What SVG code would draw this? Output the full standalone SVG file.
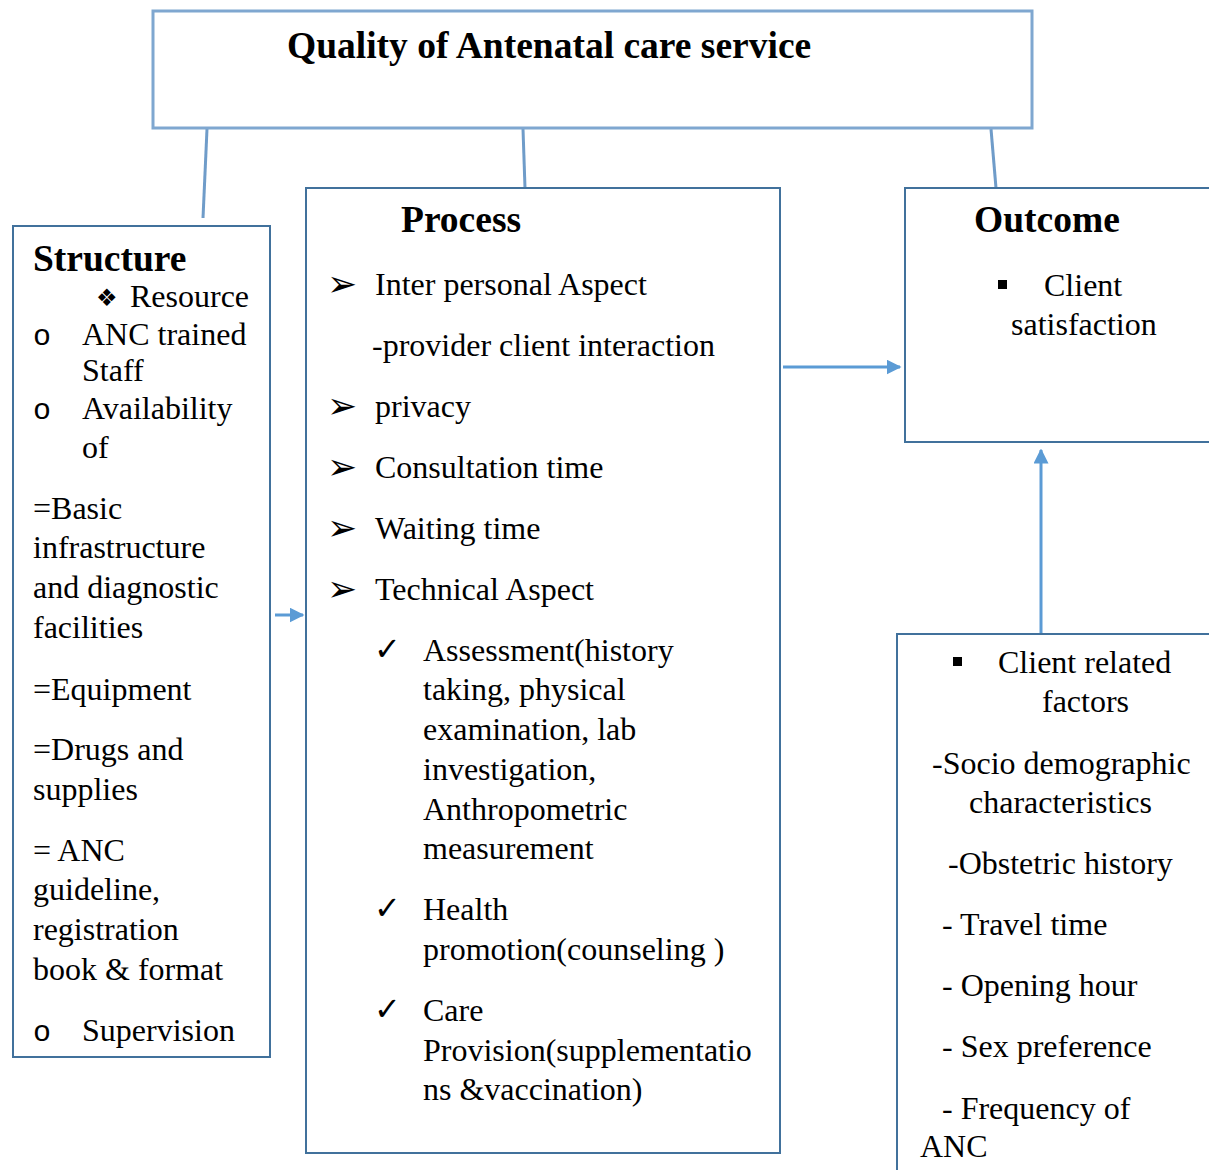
<svg xmlns="http://www.w3.org/2000/svg" width="1209" height="1170" viewBox="0 0 1209 1170">
<style>
.box{fill:#fff;stroke:#41719c;stroke-width:2}
.top{fill:#fff;stroke:#7fa7d0;stroke-width:3}
.t{font-family:"Liberation Serif","Times New Roman",serif;font-size:32px;fill:#000}
.b{font-family:"Liberation Serif","Times New Roman",serif;font-size:37.5px;font-weight:bold;fill:#000}
.arw{font-family:"DejaVu Sans",sans-serif;font-size:36px;fill:#000}
.chk{font-family:"DejaVu Sans",sans-serif;font-size:32px;fill:#000}
.dia{font-family:"DejaVu Sans",sans-serif;font-size:24px;fill:#000}
.o{font-family:"Liberation Mono","Courier New",monospace;font-size:30px;fill:#000}
.ln{stroke:#6f9cc9;stroke-width:3;fill:none}
.ar{stroke:#5b9bd5;stroke-width:3;fill:none}
</style>
<defs>
<marker id="ah" viewBox="0 0 10 10" refX="9" refY="5" markerWidth="5" markerHeight="5" orient="auto" markerUnits="strokeWidth">
<path d="M0,0 L10,5 L0,10 z" fill="#5b9bd5"/>
</marker>
</defs>
<rect width="1209" height="1170" fill="#fff"/>

<g id="connectors">
<line class="ln" x1="207" y1="129" x2="203" y2="218"/>
<line class="ln" x1="523" y1="129" x2="525" y2="188"/>
<line class="ln" x1="991" y1="129" x2="996" y2="188"/>
<line class="ar" x1="275" y1="615" x2="303" y2="615" marker-end="url(#ah)"/>
<line class="ar" x1="783" y1="367" x2="900" y2="367" marker-end="url(#ah)"/>
<line class="ar" x1="1041" y1="640" x2="1041" y2="450" marker-end="url(#ah)"/>
</g>

<g id="title">
<rect class="top" x="153" y="11" width="879" height="117"/>
<text class="b" x="287" y="58">Quality of Antenatal care service</text>
</g>

<g id="structure">
<rect class="box" x="13" y="226" width="257" height="831"/>
<text class="b" x="33" y="271">Structure</text>
<text class="dia" x="96" y="306">❖</text>
<text class="t" x="130" y="307">Resource</text>
<text class="o" x="33" y="345">o</text>
<text class="t" x="82" y="345">ANC trained</text>
<text class="t" x="82" y="381">Staff</text>
<text class="o" x="33" y="419">o</text>
<text class="t" x="82" y="419">Availability</text>
<text class="t" x="82" y="458">of</text>
<text class="t" x="33" y="519">=Basic</text>
<text class="t" x="33" y="558">infrastructure</text>
<text class="t" x="33" y="598">and diagnostic</text>
<text class="t" x="33" y="638">facilities</text>
<text class="t" x="33" y="700">=Equipment</text>
<text class="t" x="33" y="760">=Drugs and</text>
<text class="t" x="33" y="800">supplies</text>
<text class="t" x="33" y="861">= ANC</text>
<text class="t" x="33" y="900">guideline,</text>
<text class="t" x="33" y="940">registration</text>
<text class="t" x="33" y="980">book &amp; format</text>
<text class="o" x="33" y="1041">o</text>
<text class="t" x="82" y="1041">Supervision</text>
</g>

<g id="process">
<rect class="box" x="306" y="188" width="474" height="965"/>
<text class="b" x="401" y="232">Process</text>
<text class="arw" x="327" y="296">➢</text>
<text class="t" x="375" y="295">Inter personal Aspect</text>
<text class="t" x="372" y="356">-provider client interaction</text>
<text class="arw" x="327" y="418">➢</text>
<text class="t" x="375" y="417">privacy</text>
<text class="arw" x="327" y="479">➢</text>
<text class="t" x="375" y="478">Consultation time</text>
<text class="arw" x="327" y="540">➢</text>
<text class="t" x="375" y="539">Waiting time</text>
<text class="arw" x="327" y="601">➢</text>
<text class="t" x="375" y="600">Technical Aspect</text>
<text class="chk" x="374" y="660">✓</text>
<text class="t" x="423" y="661">Assessment(history</text>
<text class="t" x="423" y="700">taking, physical</text>
<text class="t" x="423" y="740">examination, lab</text>
<text class="t" x="423" y="780">investigation,</text>
<text class="t" x="423" y="820">Anthropometric</text>
<text class="t" x="423" y="859">measurement</text>
<text class="chk" x="374" y="919">✓</text>
<text class="t" x="423" y="920">Health</text>
<text class="t" x="423" y="960">promotion(counseling )</text>
<text class="chk" x="374" y="1020">✓</text>
<text class="t" x="423" y="1021">Care</text>
<text class="t" x="423" y="1061">Provision(supplementatio</text>
<text class="t" x="423" y="1100">ns &amp;vaccination)</text>
</g>

<g id="outcome">
<rect class="box" x="905" y="188" width="310" height="254"/>
<text class="b" x="974" y="232">Outcome</text>
<rect x="998" y="280" width="9" height="9" fill="#000"/>
<text class="t" x="1044" y="296">Client</text>
<text class="t" x="1011" y="335">satisfaction</text>
</g>

<g id="client-factors">
<rect class="box" x="897" y="634" width="320" height="545"/>
<rect x="953" y="657" width="9" height="9" fill="#000"/>
<text class="t" x="998" y="673">Client related</text>
<text class="t" x="1042" y="712">factors</text>
<text class="t" x="932" y="774">-Socio demographic</text>
<text class="t" x="969" y="813">characteristics</text>
<text class="t" x="948" y="874">-Obstetric history</text>
<text class="t" x="942" y="935">- Travel time</text>
<text class="t" x="942" y="996">- Opening hour</text>
<text class="t" x="942" y="1057">- Sex preference</text>
<text class="t" x="942" y="1119">- Frequency of</text>
<text class="t" x="920" y="1157">ANC</text>
</g>
</svg>
